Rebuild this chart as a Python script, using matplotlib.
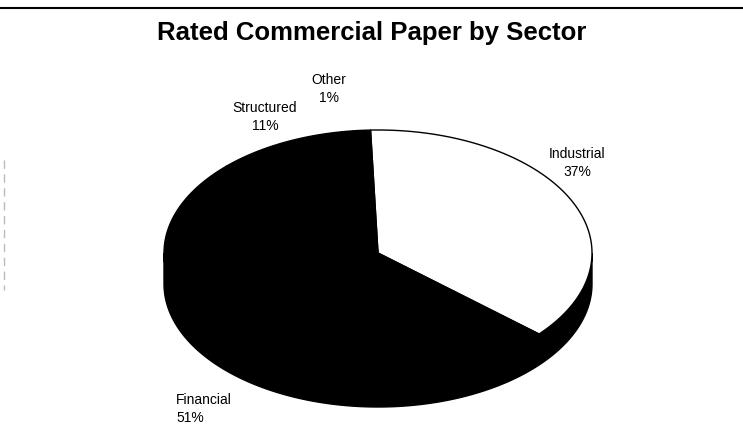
import numpy as np
import matplotlib.pyplot as plt
from matplotlib.patches import Polygon

# Data
sectors = ["Industrial", "Financial", "Structured", "Other"]
shares = [37, 51, 11, 1]
colors = ["white", "black", "black", "black"]

# pie geometry (pixels)
cx, cy = 378, 253
rx, ry = 214, 123
depth = 31
start = 92

fig = plt.figure(figsize=(7.43, 4.32), dpi=100)
ax = fig.add_axes([0, 0, 1, 1])
ax.set_xlim(0, 743)
ax.set_ylim(432, 0)
ax.axis("off")

def pt(t):
    r = np.radians(t)
    return cx + rx * np.cos(r), cy - ry * np.sin(r)

# side band (front half)
t = np.linspace(180, 360, 200)
xs, ys = pt(t)
side = np.concatenate([np.column_stack([xs, ys]),
                       np.column_stack([xs, ys + depth])[::-1]])
ax.add_patch(Polygon(side, closed=True, fc="black", ec="black", lw=1))

# top face wedges, clockwise from the top
ang = start
for name, v, c in zip(sectors, shares, colors):
    a2 = ang - v * 3.6
    tt = np.linspace(ang, a2, 120)
    wx, wy = pt(tt)
    verts = np.vstack([[cx, cy], np.column_stack([wx, wy])])
    ax.add_patch(Polygon(verts, closed=True, fc=c, ec="black", lw=1, zorder=2))
    ang = a2

# labels
lab = {"Other": (329, 89, "center"), "Structured": (265, 117, "center"),
       "Industrial": (577, 163, "center"), "Financial": (176, 409, "left")}
for name, v in zip(sectors, shares):
    x, y, ha = lab[name]
    ax.text(x, y, f"{name}\n{v}%", ha=ha, va="center", ma=ha,
            fontsize=10, family="Liberation Sans", linespacing=1.3)

ax.text(372, 40, "Rated Commercial Paper by Sector", ha="center", va="baseline",
        fontsize=18.5, fontweight="bold", family="Liberation Sans")

# top rule and faint scan margin
ax.plot([0, 743], [8, 8], color="black", lw=1.5)
ax.plot([4, 4], [160, 290], color="#bbbbbb", lw=1, ls=(0, (6, 4)))

fig.savefig("out.png", dpi=100)
